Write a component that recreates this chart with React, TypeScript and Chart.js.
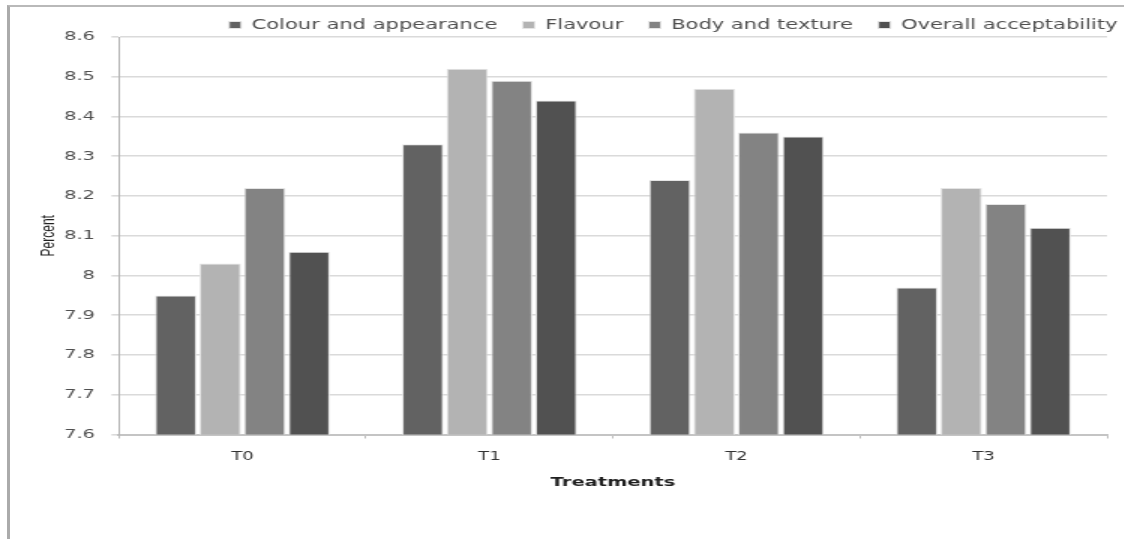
import React, { useEffect, useRef } from 'react';
import { Chart, registerables } from 'chart.js';

Chart.register(...registerables);

// ---- data ----
const categories = ['T0', 'T1', 'T2', 'T3'];
const seriesNames = ['Colour and appearance', 'Flavour', 'Body and texture', 'Overall acceptability'];
const colourAndAppearance = [7.95, 8.33, 8.24, 7.97];
const flavour = [8.03, 8.52, 8.47, 8.22];
const bodyAndTexture = [8.22, 8.49, 8.36, 8.18];
const overallAcceptability = [8.06, 8.44, 8.35, 8.12];
const seriesColors = ['#626262', '#b3b3b3', '#838383', '#515151'];
const yTickLabels = ['7.6', '7.7', '7.8', '7.9', '8', '8.1', '8.2', '8.3', '8.4', '8.5', '8.6'];
const yMin = 7.6;
const yMax = 8.6;
const yStep = 0.1;
const yTitle = 'Percent';
const xTitle = 'Treatments';

// horizontal stretch of the whole chart image
const STRETCH_X = 1.5;
const LOGICAL_W = 762;
const LOGICAL_H = 539;

export default function App() {
  const ref = useRef<HTMLCanvasElement>(null);

  useEffect(() => {
    if (!ref.current) return;
    const seriesValues = [colourAndAppearance, flavour, bodyAndTexture, overallAcceptability];
    const chart = new Chart(ref.current, {
      type: 'bar',
      data: {
        labels: categories,
        datasets: seriesNames.map((name, i) => ({
          label: name,
          data: seriesValues[i],
          backgroundColor: seriesColors[i],
          borderColor: '#e4e4e4',
          borderWidth: 1,
          categoryPercentage: 0.72,
          barPercentage: 0.93,
          yAxisID: 'y',
        })),
      },
      options: {
        animation: false,
        responsive: true,
        maintainAspectRatio: false,
        layout: { padding: { left: 21.3, right: 0, top: 1, bottom: 48.5 } },
        plugins: {
          tooltip: { enabled: false },
          legend: {
            position: 'top',
            align: 'end',
            maxHeight: 36,
            labels: {
              boxWidth: 8,
              boxHeight: 7,
              padding: 17,
              color: '#4f4f4f',
              font: { family: 'DejaVu Sans', size: 14 },
            },
          },
        },
        scales: {
          x: {
            grid: {
              display: true,
              drawOnChartArea: false,
              drawTicks: true,
              tickLength: 4,
              color: '#bdbdbd',
              offset: true,
            },
            border: { display: true, color: '#c4c4c4', width: 2 },
            ticks: {
              color: '#333333',
              padding: 11,
              font: { family: 'DejaVu Sans', size: 12 },
            },
            title: {
              display: true,
              text: xTitle,
              color: '#1f1f1f',
              padding: { top: 0, bottom: 0 },
              font: { family: 'DejaVu Sans', size: 13, weight: 'bold' },
            },
          },
          y: {
            type: 'linear',
            position: 'left',
            min: yMin,
            max: yMax,
            afterFit: (s: any) => {
              s.width = 58;
            },
            grid: {
              color: '#dadada',
              lineWidth: 1.6,
              tickLength: 5,
              drawTicks: true,
            },
            border: { display: true, color: '#b4b4b4', width: 1 },
            ticks: {
              stepSize: yStep,
              padding: 11,
              color: '#505050',
              font: { family: 'DejaVu Sans', size: 13 },
              callback: (_v: any, i: number) => yTickLabels[i],
            },
            title: {
              display: true,
              text: yTitle,
              color: '#222222',
              padding: { top: 4, bottom: 0 },
              font: { family: 'Liberation Sans', size: 12 },
            },
          },
          yRight: {
            type: 'linear',
            position: 'right',
            display: true,
            afterFit: (s: any) => {
              s.width = 24;
            },
            grid: { display: false },
            border: { display: false },
            ticks: { display: false },
          },
        },
      },
    });
    return () => chart.destroy();
  }, []);

  return (
    <div
      style={{
        position: 'absolute',
        left: 0,
        top: 0,
        width: 1124,
        height: 539,
        overflow: 'hidden',
        background: '#ffffff',
      }}
    >
      <div
        style={{
          position: 'absolute',
          left: 7,
          top: 5,
          width: 1200,
          height: 600,
          boxSizing: 'border-box',
          borderLeft: '3px solid #ababab',
          borderTop: '2px solid #b9b9b9',
        }}
      />
      <div
        style={{
          position: 'absolute',
          left: 0,
          top: 0,
          width: LOGICAL_W,
          height: LOGICAL_H,
          transform: `scaleX(${STRETCH_X})`,
          transformOrigin: '0 0',
        }}
      >
        <canvas ref={ref} />
      </div>
    </div>
  );
}
